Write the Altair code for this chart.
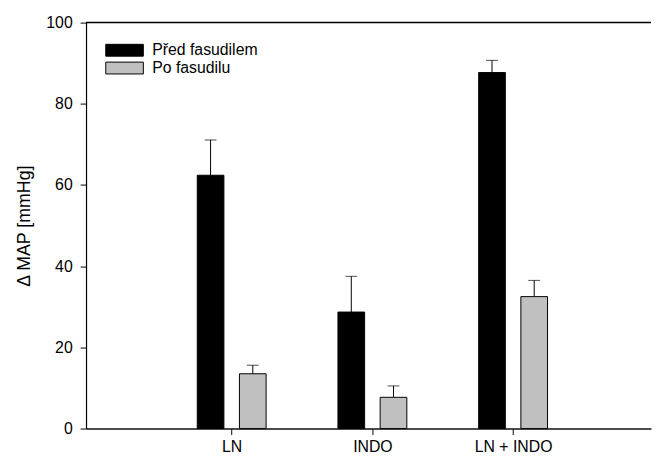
import altair as alt
import pandas as pd

categories = ["LN", "INDO", "LN + INDO"]
series_names = ["Před fasudilem", "Po fasudilu"]
before_vals = [62.4, 28.7, 87.7]
before_err = [8.7, 8.8, 3.0]
after_vals = [13.5, 7.7, 32.5]
after_err = [2.1, 2.8, 4.0]

OFFSET = 0.15
rows = []
for i, c in enumerate(categories):
    rows.append({"cat": c, "series": series_names[0], "pos": i + 1 - OFFSET,
                 "value": before_vals[i], "top": before_vals[i] + before_err[i]})
    rows.append({"cat": c, "series": series_names[1], "pos": i + 1 + OFFSET,
                 "value": after_vals[i], "top": after_vals[i] + after_err[i]})
df = pd.DataFrame(rows)

FONT = "Liberation Sans"
label_expr = "[" + ",".join("'" + c + "'" for c in categories) + "][datum.value - 1]"

xscale = alt.Scale(domain=[0, 3.945], nice=False, zero=False)
yscale = alt.Scale(domain=[0, 100], nice=False)

base = alt.Chart(df)

bars = base.mark_bar(size=27, stroke="black", strokeWidth=1).encode(
    x=alt.X("pos:Q", scale=xscale,
            axis=alt.Axis(values=[1, 2, 3], labelExpr=label_expr, title=None, grid=False,
                          tickSize=6, labelPadding=4, domainWidth=1.6, domainColor="#111",
                          tickColor="black", labelFontSize=16, labelFont=FONT,
                          labelColor="black")),
    y=alt.Y("value:Q", scale=yscale,
            axis=alt.Axis(values=[0, 20, 40, 60, 80, 100], title="Δ MAP [mmHg]", grid=False,
                          tickSize=6, labelPadding=8, domainWidth=1.2, domainColor="black",
                          tickColor="black", labelFontSize=16, labelFont=FONT,
                          labelColor="black", titleFontSize=18, titleFont=FONT,
                          titleFontWeight="normal", titleColor="black", titlePadding=13)),
    fill=alt.Fill("series:N", sort=series_names,
                  scale=alt.Scale(domain=series_names, range=["#000000", "#c0c0c0"]),
                  legend=alt.Legend(title=None, orient="none", legendX=31, legendY=20,
                                    symbolType="M-3.17,-1H3.17V1H-3.17Z", symbolSize=144,
                                    symbolStrokeColor="black", symbolStrokeWidth=1,
                                    labelFont=FONT, labelFontSize=16, labelColor="black",
                                    labelOffset=20, rowPadding=2, padding=0)),
)

stems = base.mark_rule(color="black", strokeWidth=1).encode(
    x="pos:Q", y="value:Q", y2="top:Q"
)
caps = base.mark_tick(orient="horizontal", size=12, thickness=1, color="black").encode(
    x="pos:Q", y="top:Q"
)
topline = alt.Chart(pd.DataFrame({"v": [100]})).mark_rule(color="black", strokeWidth=1.5).encode(
    y=alt.Y("v:Q", scale=yscale)
)

chart = alt.layer(stems, bars, caps, topline).properties(
    width=572, height=411,
    autosize=alt.AutoSizeParams(type="none"),
    padding={"left": 79, "top": 12, "right": 1, "bottom": 25},
).configure_view(stroke=None)

chart.save("out.html", embed_options={"renderer": "svg", "actions": False})
